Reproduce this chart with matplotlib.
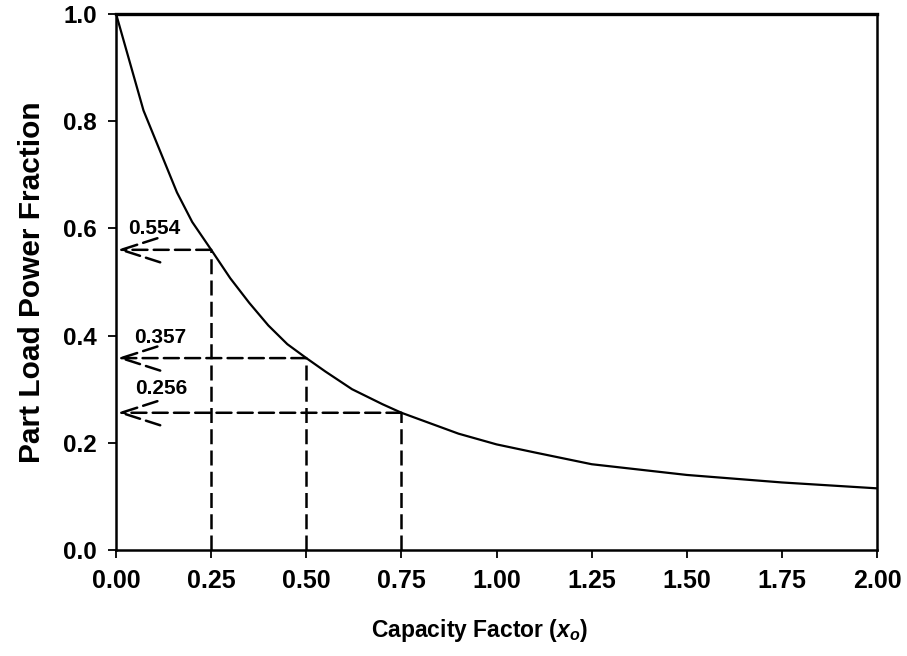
import matplotlib
matplotlib.use("Agg")
import matplotlib.pyplot as plt
from matplotlib.ticker import FormatStrFormatter

plt.rcParams['font.family'] = ['Liberation Sans', 'DejaVu Sans']
plt.rcParams['font.weight'] = 'bold'
plt.rcParams['mathtext.fontset'] = 'custom'
plt.rcParams['mathtext.it'] = 'Liberation Sans:bold:italic'
plt.rcParams['mathtext.rm'] = 'Liberation Sans:bold'

# curve
capacity = [0.0, 0.072, 0.16, 0.2, 0.25, 0.3, 0.35, 0.4, 0.45, 0.5, 0.55, 0.62,
            0.7, 0.75, 0.8, 0.9, 1.0, 1.1, 1.25, 1.5, 1.75, 2.0]
power_frac = [1.0, 0.82, 0.667, 0.612, 0.56, 0.507, 0.461, 0.419, 0.384, 0.358, 0.333, 0.300,
              0.272, 0.256, 0.243, 0.217, 0.197, 0.182, 0.160, 0.140, 0.126, 0.115]

# marked operating points
mark_x = [0.25, 0.5, 0.75]
mark_y = [0.56, 0.358, 0.256]
mark_labels = ["0.554", "0.357", "0.256"]
label_pos = [(0.10, 0.60), (0.116, 0.397), (0.118, 0.302)]

xticks = [0.0, 0.25, 0.5, 0.75, 1.0, 1.25, 1.5, 1.75, 2.0]
yticks = [0.0, 0.2, 0.4, 0.6, 0.8, 1.0]

fig = plt.figure(figsize=(9.07, 6.56), dpi=100)
ax = fig.add_axes([0.128, 0.1616, 0.839, 0.8171])

ax.plot(capacity, power_frac, color='black', lw=1.6)

dash = (0, (6, 2.5))
for x, y, lab, (tx, ty) in zip(mark_x, mark_y, mark_labels, label_pos):
    ax.plot([x, x], [0, y], color='black', lw=1.8, linestyle=dash)
    ax.annotate('', xy=(0.003, y), xytext=(x, y),
                arrowprops=dict(arrowstyle='->,head_length=2.8,head_width=0.9',
                                mutation_scale=10, linestyle=dash, lw=1.8,
                                color='black', shrinkA=0, shrinkB=0))
    ax.text(tx, ty, lab, ha='center', va='center', fontsize=15, fontweight='bold')

ax.set_xlim(0, 2.0)
ax.set_ylim(0, 1.0)
ax.set_xticks(xticks)
ax.set_yticks(yticks)
ax.xaxis.set_major_formatter(FormatStrFormatter('%.2f'))
ax.yaxis.set_major_formatter(FormatStrFormatter('%.1f'))
ax.tick_params(direction='out', length=6, width=1.3, pad=8)
ax.tick_params(axis='x', labelsize=18)
ax.tick_params(axis='y', labelsize=17.5)
for s in ax.spines.values():
    s.set_linewidth(1.8)
ax.spines['top'].set_linewidth(2.4)

ax.set_xlabel('Capacity Factor ($x_o$)', fontsize=16.5, fontweight='bold')
ax.xaxis.set_label_coords(0.478, -0.125)
ax.set_ylabel('Part Load Power Fraction', fontsize=21.5, fontweight='bold', labelpad=12)

fig.savefig('out.png', dpi=100)
